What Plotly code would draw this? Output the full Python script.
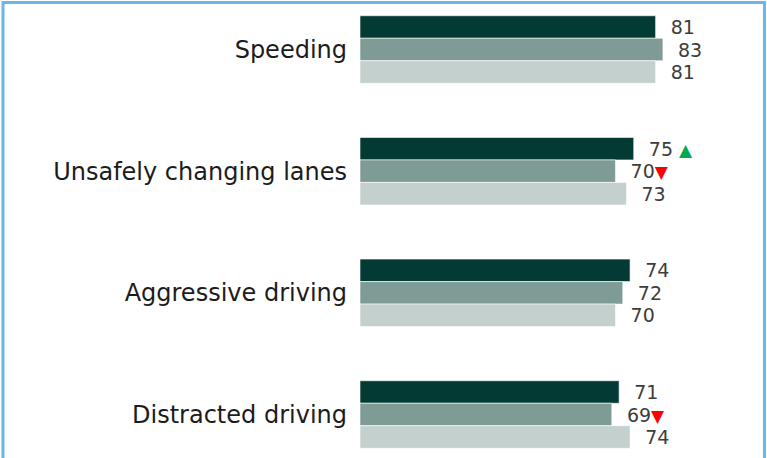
import plotly.graph_objects as go

# Categories, top to bottom
behaviours = ["Speeding", "Unsafely changing lanes", "Aggressive driving", "Distracted driving"]

# Three series (dark / mid / light), one value per behaviour
series_a = [81, 75, 74, 71]
series_b = [83, 70, 72, 69]
series_c = [81, 73, 70, 74]

# change markers per series: "up", "down" or ""
marks_a = ["", "up", "", ""]
marks_b = ["", "down", "", "down"]
marks_c = ["", "", "", ""]

colors = ["#033a33", "#7f9b95", "#c3d0ce"]

UP = "<span style='color:#00a84f;font-size:17px'>\u25b2</span>"
DOWN = "<span style='color:#ff0000;font-size:17px'>\u25bc</span>"


def make_text(vals, marks):
    out = []
    for v, m in zip(vals, marks):
        t = "\u00a0\u00a0" + str(v)
        if m == "up":
            t += "\u00a0" + UP
        elif m == "down":
            t += DOWN
        out.append(t)
    return out


fig = go.Figure()
for vals, marks, col in zip([series_a, series_b, series_c],
                            [marks_a, marks_b, marks_c], colors):
    fig.add_trace(go.Bar(
        y=behaviours,
        x=vals,
        orientation="h",
        marker=dict(color=col, line=dict(color="white", width=0.6)),
        text=make_text(vals, marks),
        textposition="outside",
        constraintext="none",
        textfont=dict(family="DejaVu Sans", size=19, color="#3d3d3d"),
        cliponaxis=False,
        hoverinfo="skip",
        showlegend=False,
    ))

fig.update_layout(
    width=767, height=458,
    margin=dict(l=360, r=7, t=0, b=0),
    barmode="group",
    bargap=0.445,
    bargroupgap=0.0,
    plot_bgcolor="white",
    paper_bgcolor="white",
    xaxis=dict(range=[0, 109.6], visible=False, showgrid=False, zeroline=False),
    yaxis=dict(
        range=[3.3575, -0.407],
        showgrid=False, zeroline=False, showline=False,
        ticks="", ticklabelstandoff=12,
        tickfont=dict(family="DejaVu Sans", size=24, color="#1c1c1c"),
    ),
    shapes=[dict(
        type="rect", xref="paper", yref="paper",
        x0=-0.8925, x1=1.0112, y0=-0.2, y1=0.9945,
        line=dict(color="#6cb5e5", width=3),
    )],
)

fig.write_html("out.html", config={"displayModeBar": False},
               post_script="document.body.style.margin='0';")
